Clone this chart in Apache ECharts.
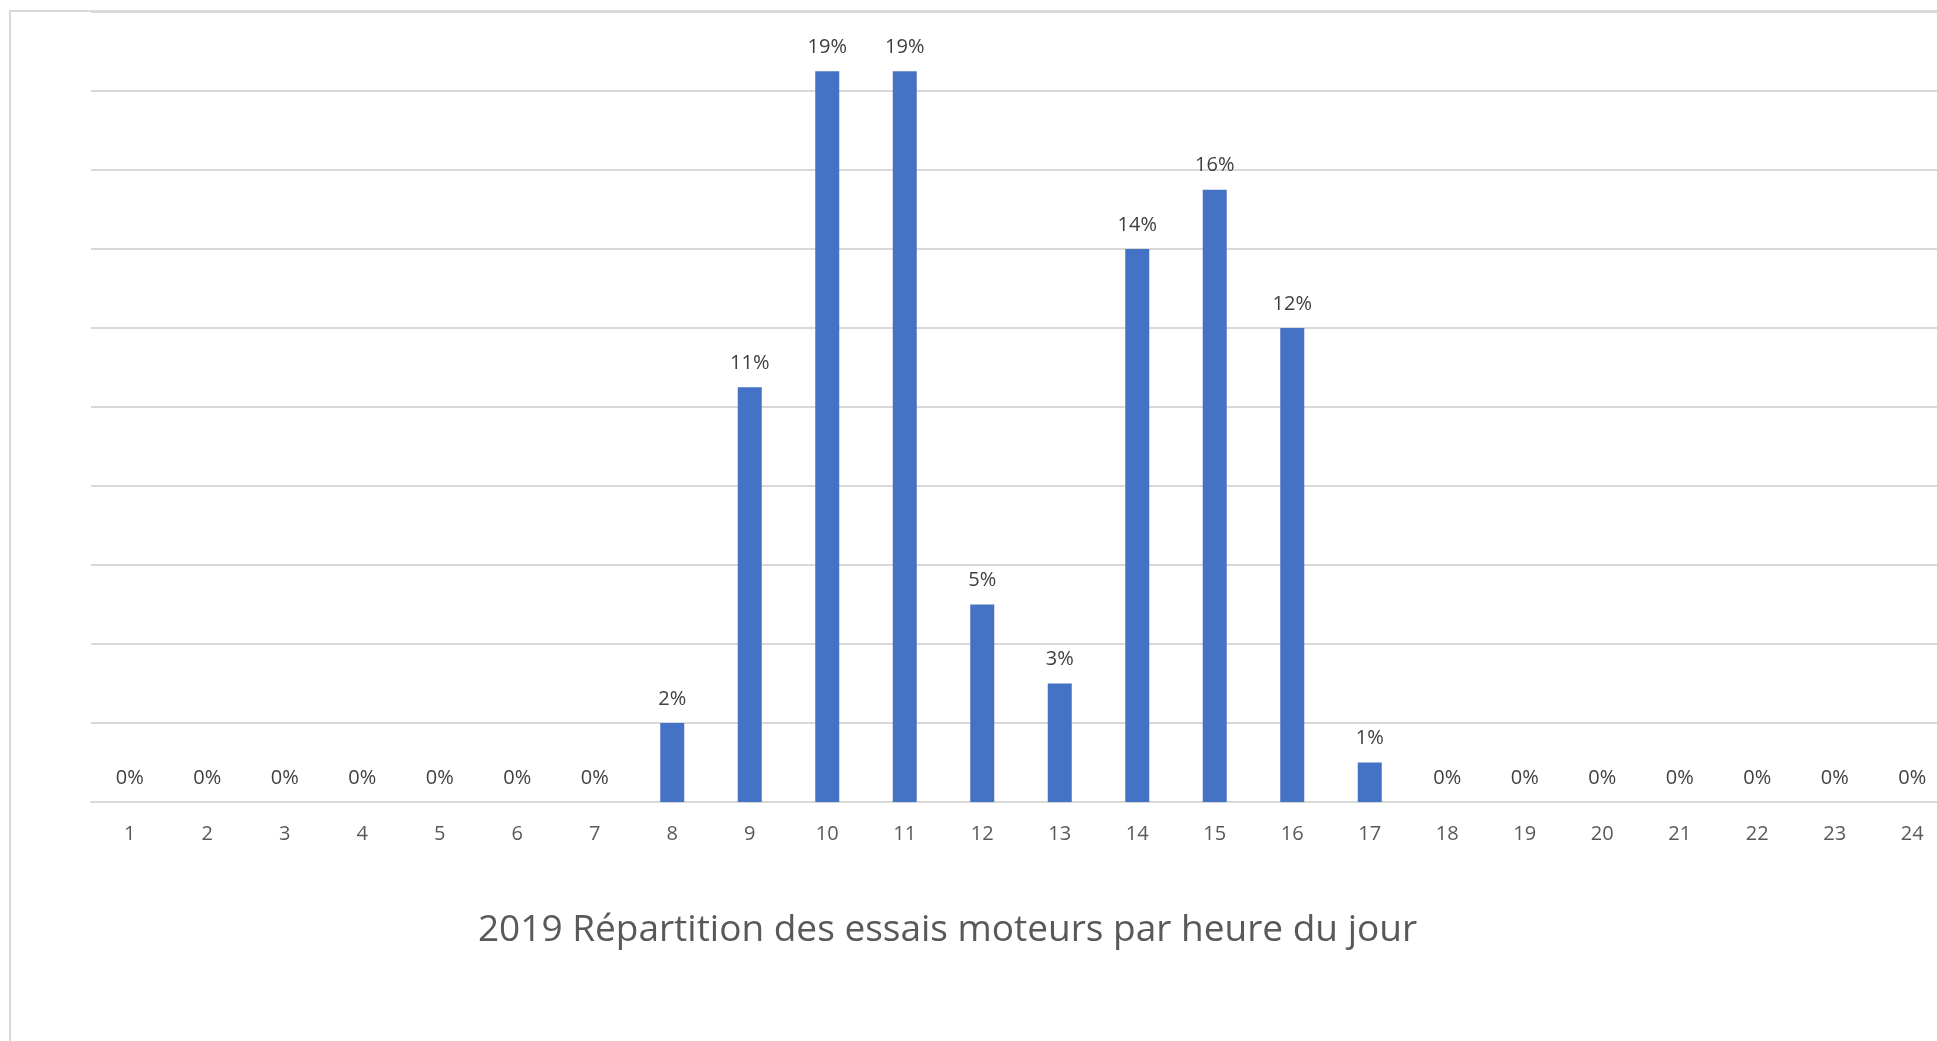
<!DOCTYPE html>
<html>
<head>
<meta charset="utf-8">
<script src="https://cdn.jsdelivr.net/npm/echarts@6/dist/echarts.min.js"></script>
<style>
html,body{margin:0;padding:0;background:#fff;}
#chart{width:1937px;height:1041px;}
</style>
</head>
<body>
<div id="chart"></div>
<script>
const hours = ['1','2','3','4','5','6','7','8','9','10','11','12','13','14','15','16','17','18','19','20','21','22','23','24'];
// share of engine tests per hour, in percent
const sharePct = [0,0,0,0,0,0,0,2,10.5,18.5,18.5,5,3,14,15.5,12,1,0,0,0,0,0,0,0];
const titleText = '2019 Répartition des essais moteurs par heure du jour';

const chart = echarts.init(document.getElementById('chart'), null, {renderer:'canvas'});
chart.setOption({
  animation:false,
  backgroundColor:'#ffffff',
  textStyle:{fontFamily:'Open Sans'},
  grid:{left:91, top:12, height:790, width:1860, containLabel:false, outerBoundsMode:'none'},
  graphic:[
    {type:'rect', silent:true, z:-10, shape:{x:10, y:11, width:3000, height:3000},
     style:{fill:'none', stroke:'#d9d9d9', lineWidth:2}},
    {type:'text', x:947.5, y:930, silent:true,
     style:{text:titleText, fill:'#595959', font:'37px "Open Sans"', align:'center', verticalAlign:'middle'}}
  ],
  xAxis:{
    type:'category', data:hours,
    axisLine:{show:true, lineStyle:{color:'#d9d9d9', width:2}},
    axisTick:{show:false},
    axisLabel:{color:'#595959', fontSize:20, margin:22, fontFamily:'Open Sans'}
  },
  yAxis:{
    type:'value', min:0, max:20, interval:2,
    axisLine:{show:false}, axisTick:{show:false}, axisLabel:{show:false},
    splitLine:{lineStyle:{color:'#d9d9d9', width:2}}
  },
  series:[{
    type:'bar', data:sharePct, barWidth:24,
    itemStyle:{color:'#4472C4'},
    label:{show:true, position:'top', distance:14, color:'#404040', fontSize:20, fontFamily:'Open Sans',
      formatter:p => Math.round(p.value) + '%'}
  }]
});
</script>
</body>
</html>
